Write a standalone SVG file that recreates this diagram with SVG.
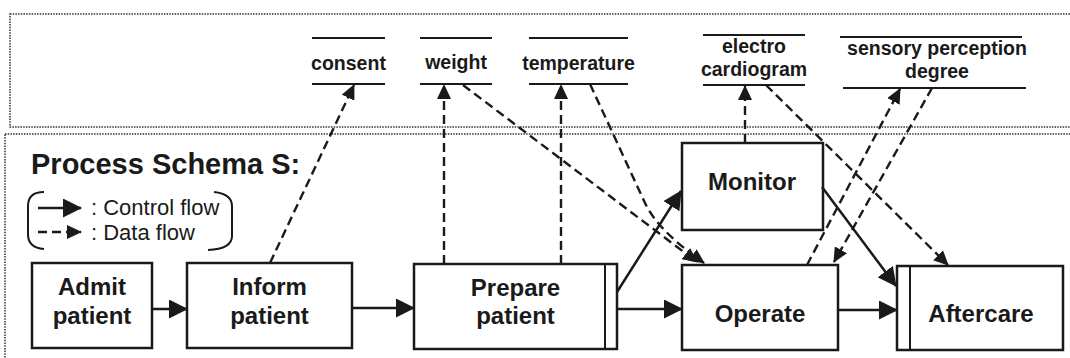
<svg xmlns="http://www.w3.org/2000/svg" width="1070" height="358" viewBox="0 0 1070 358">
  <style>
    .frame { fill: none; stroke: #333; stroke-width: 1.5; stroke-dasharray: 1.5 1.2; }
    .box { fill: #fff; stroke: #1a1a1a; stroke-width: 2.5; }
    .sep { stroke: #1a1a1a; stroke-width: 2; }
    .dline { stroke: #1a1a1a; stroke-width: 2.2; }
    .ctrl { fill: none; stroke: #1a1a1a; stroke-width: 2.5; marker-end: url(#ctrlHead); }
    .data { fill: none; stroke: #1a1a1a; stroke-width: 2.4; stroke-dasharray: 9 5; marker-end: url(#dataHead); }
    .node { font-family: "Liberation Sans", Arial, sans-serif; font-weight: bold; font-size: 24px; fill: #1a1a1a; text-anchor: middle; }
    .dlabel { font-family: "Liberation Sans", Arial, sans-serif; font-weight: bold; font-size: 19.5px; fill: #1a1a1a; text-anchor: middle; }
    .title { font-family: "Liberation Sans", Arial, sans-serif; font-weight: bold; font-size: 29px; fill: #1a1a1a; }
    .legend { font-family: "Liberation Sans", Arial, sans-serif; font-size: 22px; fill: #1a1a1a; }
  </style>
  <defs>
    <marker id="ctrlHead" markerUnits="userSpaceOnUse" markerWidth="19" markerHeight="19" refX="18" refY="9.5" orient="auto">
      <path d="M0,0 L19,9.5 L0,19 z" fill="#1a1a1a"/>
    </marker>
    <marker id="dataHead" markerUnits="userSpaceOnUse" markerWidth="15" markerHeight="14" refX="14" refY="7" orient="auto">
      <path d="M0,0 L15,7 L0,14 z" fill="#1a1a1a"/>
    </marker>
  </defs>

  <rect width="1070" height="358" fill="#fff"/>

  <!-- dotted frames: data area above, process schema below -->
  <rect class="frame" x="10" y="14" width="1070" height="113"/>
  <rect class="frame" x="5" y="134" width="1080" height="240"/>

  <text class="title" x="31" y="174">Process Schema S:</text>

  <!-- legend -->
  <g id="legend">
    <path d="M44,192 Q28,192 28,206 L28,234 Q28,248 44,249" fill="none" stroke="#1a1a1a" stroke-width="2"/>
    <path d="M214,192 Q232,194 232,206 L232,236 Q232,249 208,250" fill="none" stroke="#1a1a1a" stroke-width="2"/>
    <line class="ctrl" x1="38" y1="208" x2="81" y2="208"/>
    <line class="data" x1="38" y1="232" x2="81" y2="232" stroke-dasharray="6 4"/>
    <text class="legend" x="91" y="215">: Control flow</text>
    <text class="legend" x="91" y="240">: Data flow</text>
  </g>

  <!-- data elements -->
  <g id="consent">
    <line class="dline" x1="312" y1="38" x2="385" y2="38"/>
    <line class="dline" x1="312" y1="84" x2="385" y2="84"/>
    <text class="dlabel" x="348.5" y="70">consent</text>
  </g>
  <g id="weight">
    <line class="dline" x1="420" y1="38" x2="492" y2="38"/>
    <line class="dline" x1="420" y1="84" x2="492" y2="84"/>
    <text class="dlabel" x="456" y="69">weight</text>
  </g>
  <g id="temperature">
    <line class="dline" x1="529" y1="38" x2="628" y2="38"/>
    <line class="dline" x1="529" y1="84" x2="628" y2="84"/>
    <text class="dlabel" x="578.5" y="70">temperature</text>
  </g>
  <g id="electrocardiogram">
    <line class="dline" x1="703" y1="35" x2="805" y2="35"/>
    <line class="dline" x1="703" y1="85" x2="805" y2="85"/>
    <text class="dlabel" x="754" y="53">electro</text>
    <text class="dlabel" x="754" y="76">cardiogram</text>
  </g>
  <g id="sensoryPerceptionDegree">
    <line class="dline" x1="840" y1="37" x2="1022" y2="37"/>
    <line class="dline" x1="843" y1="88" x2="1026" y2="88"/>
    <text class="dlabel" x="937" y="55">sensory perception</text>
    <text class="dlabel" x="937" y="78">degree</text>
  </g>

  <!-- activities -->
  <g id="admitPatient">
    <rect class="box" x="32" y="263" width="120" height="85"/>
    <text class="node" x="92" y="295">Admit</text>
    <text class="node" x="92" y="324">patient</text>
  </g>
  <g id="informPatient">
    <rect class="box" x="187" y="263" width="165" height="85"/>
    <text class="node" x="269.5" y="295">Inform</text>
    <text class="node" x="269.5" y="324">patient</text>
  </g>
  <g id="preparePatient">
    <rect class="box" x="414" y="264" width="203" height="85"/>
    <line class="sep" x1="605" y1="264" x2="605" y2="349"/>
    <text class="node" x="515.5" y="296">Prepare</text>
    <text class="node" x="515.5" y="324">patient</text>
  </g>
  <g id="monitor">
    <rect class="box" x="682" y="143" width="141" height="87"/>
    <text class="node" x="752" y="190">Monitor</text>
  </g>
  <g id="operate">
    <rect class="box" x="682" y="265" width="156" height="85"/>
    <text class="node" x="760" y="322">Operate</text>
  </g>
  <g id="aftercare">
    <rect class="box" x="897" y="266" width="166" height="84"/>
    <line class="sep" x1="910" y1="266" x2="910" y2="350"/>
    <text class="node" x="981" y="322">Aftercare</text>
  </g>

  <!-- connectors -->
  <g id="connectors">
    <!-- control flow -->
    <line class="ctrl" x1="152" y1="309" x2="187" y2="309"/>
    <line class="ctrl" x1="352" y1="308" x2="414" y2="308"/>
    <line class="ctrl" x1="617" y1="309" x2="682" y2="309"/>
    <line class="ctrl" x1="617" y1="292" x2="681" y2="191"/>
    <line class="ctrl" x1="838" y1="310" x2="897" y2="310"/>
    <line class="ctrl" x1="822" y1="187" x2="896" y2="286"/>
    <!-- data flow -->
    <line class="data" x1="270" y1="263" x2="354" y2="85"/>
    <line class="data" x1="444" y1="264" x2="444" y2="85"/>
    <line class="data" x1="561" y1="264" x2="561" y2="85"/>
    <line class="data" x1="463" y1="85" x2="697" y2="262"/>
    <path class="data" d="M590,84 L645,203 C656,226 680,246 704,263"/>
    <line class="data" x1="745" y1="143" x2="745" y2="86"/>
    <line class="data" x1="766" y1="85" x2="948" y2="265"/>
    <line class="data" x1="807" y1="265" x2="900" y2="89"/>
    <line class="data" x1="932" y1="88" x2="834" y2="262"/>
  </g>
</svg>
